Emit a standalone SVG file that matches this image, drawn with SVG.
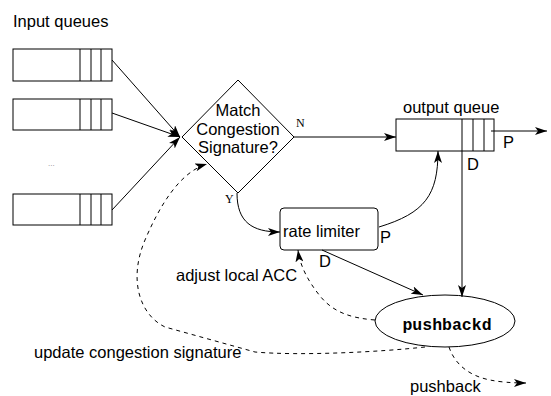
<svg xmlns="http://www.w3.org/2000/svg" width="551" height="396" viewBox="0 0 551 396">
<style>
  .ln{fill:none;stroke:#000;stroke-width:1}
  .dash{fill:none;stroke:#000;stroke-width:1;stroke-dasharray:4,4}
  .box{fill:#fff;stroke:#000;stroke-width:1}
  .t{font-family:"Liberation Sans",Arial,sans-serif;font-size:16.5px;fill:#000}
  .s{font-family:"Liberation Serif","Times New Roman",serif;font-size:12px;fill:#000}
  .m{font-family:"Liberation Mono","Courier New",monospace;font-size:16.5px;font-weight:bold;fill:#000}
</style>
<defs>
  <marker id="ah" viewBox="0 0 12 8" refX="12" refY="4" markerWidth="12" markerHeight="8" markerUnits="userSpaceOnUse" orient="auto">
    <path d="M0,0 L12,4 L0,8 L3,4 z" fill="#000"/>
  </marker>
</defs>
<text class="t" x="13" y="27">Input queues</text>
<g id="inq1">
  <rect class="box" x="13" y="49" width="99" height="32"/>
  <path class="ln" d="M80,49 V81 M91,49 V81 M101,49 V81"/>
</g>
<g id="inq2">
  <rect class="box" x="13" y="99" width="99" height="31"/>
  <path class="ln" d="M80,99 V130 M91,99 V130 M101,99 V130"/>
</g>
<text x="48" y="166" font-family="Liberation Sans,sans-serif" font-size="8" fill="#888">...</text>
<g id="inq3">
  <rect class="box" x="13" y="194" width="99" height="31"/>
  <path class="ln" d="M80,194 V225 M91,194 V225 M101,194 V225"/>
</g>
<g id="match">
  <path class="box" d="M238,80 L294,137 L238,193 L182,137 Z"/>
  <text class="t" x="238" y="116" text-anchor="middle">Match</text>
  <text class="t" x="238" y="134.5" text-anchor="middle">Congestion</text>
  <text class="t" x="238" y="153" text-anchor="middle">Signature?</text>
</g>
<text class="s" x="296" y="127">N</text>
<text class="s" x="225" y="203">Y</text>
<g id="outq">
  <text class="t" x="403" y="113">output queue</text>
  <rect class="box" x="396" y="119" width="98" height="32"/>
  <path class="ln" d="M462,119 V151 M473,119 V151 M484,119 V151"/>
</g>
<text class="t" x="503" y="148">P</text>
<text class="t" x="467" y="170">D</text>
<g id="ratelimiter">
  <rect class="box" x="280" y="208" width="98" height="42" rx="4"/>
  <text class="t" x="283" y="236.5">rate limiter</text>
</g>
<text class="t" x="380" y="243">P</text>
<text class="t" x="319" y="267">D</text>
<g id="pushbackd">
  <ellipse class="box" cx="445" cy="321" rx="70" ry="26"/>
  <text class="m" x="447" y="330" text-anchor="middle">pushbackd</text>
</g>
<text class="t" x="176" y="281">adjust local ACC</text>
<text class="t" x="34" y="358">update congestion signature</text>
<text class="t" x="410" y="392">pushback</text>
<g id="connectors">
  <path class="ln" d="M112,60 L180,137" marker-end="url(#ah)"/>
  <path class="ln" d="M112,113 L180,137" marker-end="url(#ah)"/>
  <path class="ln" d="M112,210 L180,137" marker-end="url(#ah)"/>
  <path class="ln" d="M294,137 L396,137" marker-end="url(#ah)"/>
  <path class="ln" d="M491,131 L547,131" marker-end="url(#ah)"/>
  <path class="ln" d="M462,151 L462,297" marker-end="url(#ah)"/>
  <path class="ln" d="M237,193 C237,222 252,232 280,232" marker-end="url(#ah)"/>
  <path class="ln" d="M379,227 C425,213 438,195 438,151" marker-end="url(#ah)"/>
  <path class="ln" d="M322,250 L423,295" marker-end="url(#ah)"/>
  <path class="dash" d="M375,320 C350,318 333,312 320,296 C308,281 300,266 298,250" marker-end="url(#ah)"/>
  <path class="dash" d="M425,347 C380,352 300,356 255,352 L165,327 C140,315 128,280 145,240 C160,205 180,172 207,164" marker-end="url(#ah)"/>
  <path class="dash" d="M449,347 C455,365 470,376 490,380 C500,382 512,383 526,383" marker-end="url(#ah)"/>
</g>
</svg>
